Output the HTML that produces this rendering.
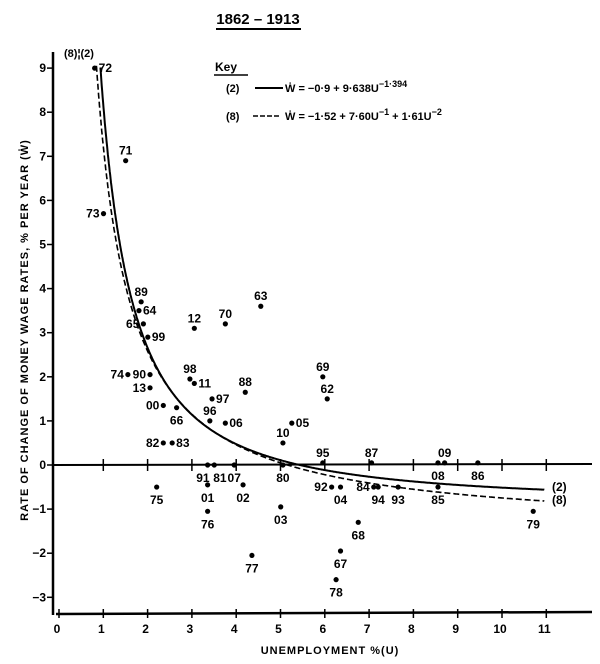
<!DOCTYPE html>
<html><head><meta charset="utf-8"><style>
body{margin:0;background:#fff;}
svg{display:block;font-family:"Liberation Sans",sans-serif;font-weight:bold;}
</style></head><body>
<svg id="chart" width="600" height="664" viewBox="0 0 600 664">
<g>
<text x="258" y="24" text-anchor="middle" font-size="15">1862 – 1913</text>
<line x1="216" y1="29" x2="301" y2="29" stroke="#000" stroke-width="2"/>
</g>
<g font-size="11">
<text x="215" y="71" font-size="12">Key</text>
<line x1="214" y1="75" x2="248" y2="75" stroke="#000" stroke-width="1.5"/>
<text x="226" y="92">(2)</text>
<line x1="255" y1="88" x2="283" y2="88" stroke="#000" stroke-width="2"/>
<text x="285" y="92">Ẇ = −0·9 + 9·638U<tspan dy="-5" font-size="9">−1·394</tspan></text>
<text x="226" y="120">(8)</text>
<line x1="253" y1="116" x2="281" y2="116" stroke="#000" stroke-width="1.5" stroke-dasharray="5,2"/>
<text x="285" y="120">Ẇ = −1·52 + 7·60U<tspan dy="-5" font-size="9">−1</tspan><tspan dy="5"> + 1·61U</tspan><tspan dy="-5" font-size="9">−2</tspan></text>
</g>
<text transform="translate(28,330) rotate(-90)" text-anchor="middle" font-size="11" letter-spacing="1">RATE OF CHANGE OF MONEY WAGE RATES, % PER YEAR (Ẇ)</text>
<text x="330" y="654" text-anchor="middle" font-size="11" letter-spacing="1">UNEMPLOYMENT %(U)</text>
<g id="axes"></g>
<g id="curves"></g>
<g id="points"></g>
</svg>
<script>
const years = ["72","71","73","89","64","65","99","12","70","63","74","90","98","11","88","69","62","13","00","66","97","96","06","05","10","82","83","95","87","09","08","86","91","81","07","80","75","01","02","76","03","92","04","84","94","93","85","79","68","67","77","78"];
const unemployment = [0.85,1.55,1.05,1.9,1.85,1.95,2.05,3.1,3.8,4.6,1.6,2.1,3.0,3.1,4.25,6.0,6.1,2.1,2.4,2.7,3.5,3.45,3.8,5.3,5.1,2.4,2.6,6.0,7.1,8.75,8.6,9.5,3.4,3.55,4.0,5.1,2.25,3.4,4.2,3.4,5.05,6.2,6.4,7.15,7.25,7.7,8.6,10.75,6.8,6.4,4.4,6.3];
const wageChange = [9.0,6.9,5.7,3.7,3.5,3.2,2.9,3.1,3.2,3.6,2.05,2.05,1.95,1.85,1.65,2.0,1.5,1.75,1.35,1.3,1.5,1.0,0.95,0.95,0.5,0.5,0.5,0.05,0.05,0.05,0.05,0.05,0,0,0,0,-0.5,-0.45,-0.45,-1.05,-0.95,-0.5,-0.5,-0.5,-0.5,-0.5,-0.5,-1.05,-1.3,-1.95,-2.05,-2.6];
const labelSide = ["r","t","l","t","r","l","r","t","t","t","l","l","t","r","t","t","t","l","l","b","r","t","r","r","t","l","r","t","t","t","b","b","bl","br","b","b","b","b","b","b","b","l","b","l","b","b","b","b","b","b","b","b"];
const xTicks = [0,1,2,3,4,5,6,7,8,9,10,11];
const yTicks = [-3,-2,-1,0,1,2,3,4,5,6,7,8,9];

const NS="http://www.w3.org/2000/svg";
const X=u=>57+44.3*u, Y=w=>465-44.1*w;
function mk(tag,attrs,parent,txt){const e=document.createElementNS(NS,tag);for(const k in attrs)e.setAttribute(k,attrs[k]);if(txt!==undefined)e.textContent=txt;parent.appendChild(e);return e;}
const axes=document.getElementById('axes');
let e;
e=mk('line',{x1:53,y1:52,x2:53,y2:615,stroke:'#000','stroke-width':2.5},axes);


e=mk('line',{x1:56,y1:614,x2:592,y2:612,stroke:'#000','stroke-width':2.5},axes);


e=mk('line',{x1:53,y1:Y(0),x2:592,y2:Y(0)-1,stroke:'#000','stroke-width':2},axes);


xTicks.forEach(t=>{
  e=mk('line',{x1:X(t)+2,y1:609,x2:X(t)+2,y2:618,stroke:'#000','stroke-width':1.5},axes);
  
  
  if(t>0){e=mk('line',{x1:X(t)+2,y1:Y(0)-6,x2:X(t)+2,y2:Y(0)+6,stroke:'#000','stroke-width':1.5},axes);
  
  }
  e=mk('text',{x:X(t),y:633,'text-anchor':'middle','font-size':12},axes,String(t));
  
  
});
yTicks.forEach(t=>{
  e=mk('line',{x1:47,y1:Y(t),x2:53,y2:Y(t),stroke:'#000','stroke-width':1.5},axes);
  
  
  e=mk('text',{x:46,y:Y(t)+4,'text-anchor':'end','font-size':12},axes,t<0?'−'+(-t):String(t));
  
  
});
const curves=document.getElementById('curves');
function path(f,dash,name){let d='';for(let u=0.8;u<=11.001;u+=0.01){const w=f(u);if(w>9.1)continue;d+=(d?'L':'M')+X(u).toFixed(1)+','+Y(w).toFixed(1);}
  const p=mk('path',{d:d,fill:'none',stroke:'#000','stroke-width':dash?1.6:2,'stroke-dasharray':dash?'6,3':'none'},curves);
  
  }
path(u=>-0.9+9.638*Math.pow(u,-1.394),false,'curve-2');
path(u=>-1.52+7.60/u+1.61/(u*u),true,'curve-8');
e=mk('text',{x:552,y:491,'font-size':12},curves,'(2)');


e=mk('text',{x:552,y:504,'font-size':12},curves,'(8)');


e=mk('text',{x:64,y:57,'font-size':11},curves,'(8)¦(2)');


const pts=document.getElementById('points');
years.forEach((yr,i)=>{
  const cx=X(unemployment[i]),cy=Y(wageChange[i]);
  e=mk('circle',{cx:cx,cy:cy,r:2.6,fill:'#000'},pts);
  
  
  const s=labelSide[i];let lx=cx,ly=cy,a='middle';
  if(s==='r'){lx=cx+4;ly=cy+4;a='start';}
  else if(s==='l'){lx=cx-4;ly=cy+4;a='end';}
  else if(s==='t'){ly=cy-6;}
  else if(s==='bl'){lx=cx+2;ly=cy+17;a='end';}
  else if(s==='br'){lx=cx-1;ly=cy+17;a='start';}
  else {ly=cy+17;}
  e=mk('text',{x:lx,y:ly,'text-anchor':a,'font-size':12},pts,yr);
  
  
});
</script>
</body></html>
